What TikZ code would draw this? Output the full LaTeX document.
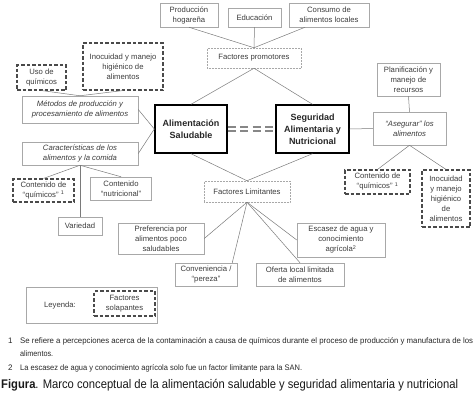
\documentclass[tikz,border=0pt]{standalone}
\usepackage{fontspec}
\setmainfont{Liberation Sans}
\usepackage{graphicx}
\usetikzlibrary{calc}
\definecolor{txt}{HTML}{3C3C3C}
\definecolor{bord}{HTML}{A8A8A8}
\definecolor{dsh}{HTML}{4A4A4A}
\definecolor{lnk}{HTML}{7A7A7A}
\begin{document}
\begin{tikzpicture}[x=1pt,y=-1pt,
  box/.style={draw=bord, line width=0.5pt, align=center, text=txt, font=\fontsize{7.7}{10}\selectfont, inner sep=1pt},
  dbox/.style={box, draw=dsh, line width=1.1pt, dash pattern=on 3.5pt off 2pt},
  fbox/.style={box, draw=bord, densely dotted},
  mbox/.style={draw=black, line width=1.4pt, align=center, text=black!85, font=\fontsize{9}{12}\selectfont\bfseries, inner sep=1pt},
  sz/.style 2 args={minimum width=#1pt, minimum height=#2pt},
  lk/.style={draw=lnk, line width=0.5pt},
  fn/.style={anchor=base west, inner sep=0pt, font=\fontsize{8}{9}\selectfont, text=black!85}
]
\useasboundingbox (0,0) rectangle (476,416);
% top
\node[box, sz={58}{24}] (prod) at (189,15) {Producción\\hogareña};
\node[box, sz={53}{19}] (edu) at (254.5,17.5) {Educación};
\node[box, sz={80}{24}] (cons) at (329,15) {Consumo de\\alimentos locales};
\node[fbox, sz={94}{20}] (prom) at (254,58) {Factores promotores};
% main
\node[mbox, sz={72}{48}] (alim) at (191,129) {Alimentación\\Saludable};
\node[mbox, sz={73}{48}] (seg) at (312.5,129) {Seguridad\\Alimentaria y\\Nutricional};
% left
\node[dbox, sz={49}{25}] (uso) at (41.5,77.5) {Uso de\\químicos};
\node[dbox, sz={80}{47}] (inoc1) at (123,66.5) {Inocuidad y manejo\\higiénico de\\alimentos};
\node[box, sz={116}{27}, font=\fontsize{7.7}{10}\selectfont\itshape] (met) at (80,109.5) {Métodos de producción y\\procesamiento de alimentos};
\node[box, sz={116}{23}, font=\fontsize{7.7}{10}\selectfont\itshape] (car) at (80,153.5) {Características de los\\alimentos y la comida};
\node[dbox, sz={61}{23}] (quim1) at (43.5,190.5) {Contenido de\\“químicos” \textsuperscript{1}};
\node[box, sz={61}{23}] (nutr) at (121,188.5) {Contenido\\“nutricional”};
\node[box, sz={44}{18}] (var) at (80,226) {Variedad};
% right
\node[box, sz={63}{33}] (plan) at (408.5,79.5) {Planificación y\\manejo de\\recursos};
\node[box, sz={73}{33}, font=\fontsize{7.7}{10}\selectfont\itshape] (aseg) at (409.5,128.5) {“Asegurar” los\\alimentos};
\node[dbox, sz={65}{24}] (quim2) at (377.5,182) {Contenido de\\“químicos” \textsuperscript{1}};
\node[dbox, sz={48}{57}] (inoc2) at (446,198.5) {Inocuidad\\y manejo\\higiénico\\de\\alimentos};
% bottom
\node[fbox, sz={86}{21}] (lim) at (247,191.5) {Factores Limitantes};
\node[box, sz={86}{31}] (pref) at (161,238.5) {Preferencia por\\alimentos poco\\saludables};
\node[box, sz={88}{34}] (esc) at (341,240) {Escasez de agua y\\conocimiento\\agrícola\textsuperscript{2}};
\node[box, sz={62}{23}] (conv) at (206,274.5) {Conveniencia /\\“pereza”};
\node[box, sz={88}{23}] (ofer) at (300,274.5) {Oferta local limitada\\de alimentos};
% legend
\node[box, sz={131}{36}] (leg) at (91.5,305) {};
\node[anchor=center, text=txt, font=\fontsize{7.7}{10}\selectfont] (legt) at (60,305) {Leyenda:};
\node[dbox, sz={61}{25}] (sol) at (124.5,303.5) {Factores\\solapantes};
% connectors
\draw[lk] (prod.south) -- (prom.north);
\draw[lk] (edu.south) -- (prom.north);
\draw[lk] ([xshift=-24pt]cons.south) -- (prom.north);
\draw[lk] (prom.south) -- (alim.north);
\draw[lk] (prom.south) -- (seg.north);
\draw[lk] (alim.south) -- (lim.north);
\draw[lk] (seg.south) -- (lim.north);
\draw[lk] (uso.south) -- (met.north);
\draw[lk] (inoc1.south) -- (met.north);
\draw[lk] (met.east) -- (alim.west);
\draw[lk] (car.east) -- (alim.west);
\draw[lk] (car.south) -- (quim1.north);
\draw[lk] (car.south) -- (var.north);
\draw[lk] (car.south) -- (nutr.north);
\draw[lk] (seg.east) -- (aseg.west);
\draw[lk] (plan.south) -- (aseg.north);
\draw[lk] (aseg.south) -- (quim2.north);
\draw[lk] (aseg.south) -- (inoc2.north);
\draw[lk] (lim.south) -- (pref.east);
\draw[lk] (lim.south) -- ([xshift=-5pt]conv.north east);
\draw[lk] (lim.south) -- (ofer.north);
\draw[lk] (lim.south) -- (esc.west);
% double dashed link
\draw[draw=lnk!90, line width=1.6pt, dash pattern=on 8pt off 4.5pt] ([yshift=-2pt]alim.east) -- ([yshift=-2pt]seg.west);
\draw[draw=lnk!90, line width=1.6pt, dash pattern=on 8pt off 4.5pt] ([yshift=2pt]alim.east) -- ([yshift=2pt]seg.west);
% footnotes
\node[fn] (n1) at (8,343) {1};
\node[fn] (f1) at (20,343) {\resizebox{453pt}{\height}{Se refiere a percepciones acerca de la contaminación a causa de químicos durante el proceso de producción y manufactura de los}};
\node[fn] (f1b) at (20,356) {\resizebox{33pt}{\height}{alimentos.}};
\node[fn] (n2) at (8,370) {2};
\node[fn] (f2) at (20,370) {\resizebox{282pt}{\height}{La escasez de agua y conocimiento agrícola solo fue un factor limitante para la SAN.}};
\node[anchor=base west, inner sep=0pt, font=\fontsize{12.5}{14}\selectfont, text=black!90] (cap) at (1,388) {\resizebox{457pt}{\height}{\textbf{Figura}. Marco conceptual de la alimentación saludable y seguridad alimentaria y nutricional}};
\end{tikzpicture}
\end{document}
